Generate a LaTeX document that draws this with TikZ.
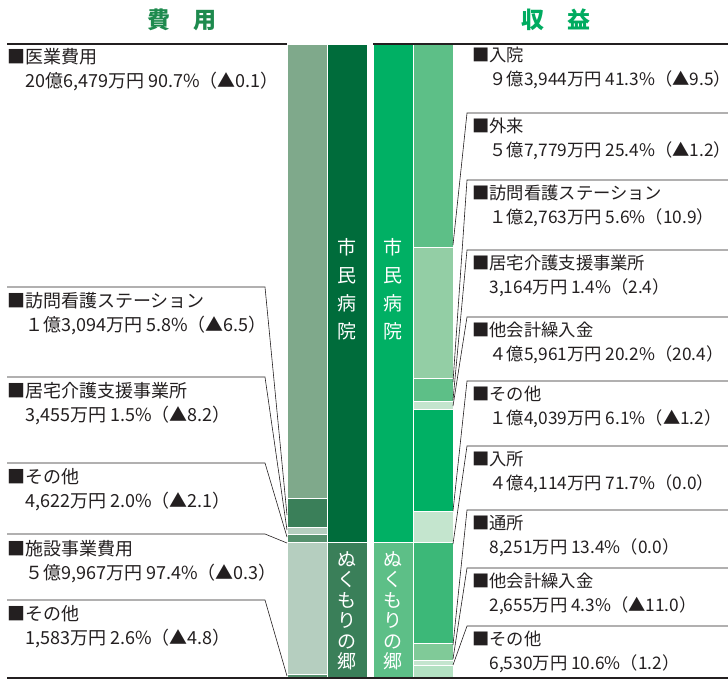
\documentclass[tikz,border=0pt]{standalone}
\usepackage{fontspec}
\setmainfont{Noto Sans CJK JP}
\usetikzlibrary{positioning}

\definecolor{ink}{HTML}{231F20}
\definecolor{headL}{HTML}{1E8A4E}
\definecolor{headR}{HTML}{00AB60}
\definecolor{hospL}{HTML}{006C3B}
\definecolor{nukuL}{HTML}{3A7F59}
\definecolor{iryo}{HTML}{7FA98B}
\definecolor{paleL}{HTML}{B5CEBF}
\definecolor{midL}{HTML}{55906D}
\definecolor{hospR}{HTML}{00B064}
\definecolor{nukuR}{HTML}{5DBF87}
\definecolor{gairai}{HTML}{93CEA5}
\definecolor{paleR}{HTML}{C4E5CE}
\definecolor{nyusho}{HTML}{3CB878}
\definecolor{tsusho}{HTML}{80CA98}
\definecolor{paleN}{HTML}{B3E1C2}

\begin{document}
\begin{tikzpicture}[x=1pt,y=-1pt,
  seg/.style={draw=white,line width=0.7pt},
  rule/.style={draw=ink,line width=1.1pt},
  leader/.style={draw=ink,line width=0.6pt},
  lbl/.style={anchor=north west,inner sep=0pt,align=left,text=ink,
    font=\fontsize{18}{24}\selectfont},
  rlbl/.style={lbl,font=\fontsize{17.3}{24}\selectfont},
  vtext/.style={inner sep=0pt,align=center,text=white},
  head/.style={inner sep=0pt,font=\fontsize{23}{23}\selectfont\bfseries}]
\useasboundingbox (0,0) rectangle (728,682);

% headings
\node[head,text=headL] (costs) at (182,20) {費　用};
\node[head,text=headR] (income) at (556,20) {収　益};

% bars
\foreach \x/\ya/\yb/\c in {
  287/44/498/iryo, 287/498/527/nukuL, 287/527/534/paleL, 287/534/542/midL,
  287/542/674/paleL, 287/674/678/midL,
  327/44/542/hospL, 327/542/678/nukuL,
  373/44/542/hospR, 373/542/678/nukuR,
  413/44/247/nukuR, 413/247/378/gairai, 413/378/401/nukuR, 413/401/409/paleR,
  413/409/511/hospR, 413/511/542/paleR,
  413/542/643/nyusho, 413/643/660/tsusho, 413/660/665/paleR, 413/665/678/paleN}
  \path[seg,fill=\c] (\x,\ya) rectangle (\x+40,\yb);

\node[vtext,font=\fontsize{19}{28}\selectfont] (hospA) at (347,289) {市\\民\\病\\院};
\node[vtext,font=\fontsize{19}{28}\selectfont] (hospB) at (393,289) {市\\民\\病\\院};
\node[vtext,font=\fontsize{19}{20.5}\selectfont] (nukuA) at (347,611) {ぬ\\く\\も\\り\\の\\郷};
\node[vtext,font=\fontsize{19}{20.5}\selectfont] (nukuB) at (393,611) {ぬ\\く\\も\\り\\の\\郷};

% top and bottom rules
\coordinate (tl) at (7,44);
\coordinate (tm) at (287,44);
\coordinate (tn) at (373,44);
\coordinate (tr) at (728,44);
\coordinate (bl) at (7,678);
\coordinate (br) at (728,678);
\draw[rule] (tl) -- (tm);
\draw[rule] (tn) -- (tr);
\draw[rule] (bl) -- (br);

% cost labels
\node[lbl] (c1) at (7,48) {■医業費用\\\hspace{1em}20億6,479万円 90.7\%（▲0.1）};
\node[lbl] (c2) at (7,292) {■訪問看護ステーション\\\hspace{1em}１億3,094万円 5.8\%（▲6.5）};
\node[lbl] (c3) at (7,382) {■居宅介護支援事業所\\\hspace{1em}3,455万円 1.5\%（▲8.2）};
\node[lbl] (c4) at (7,468) {■その他\\\hspace{1em}4,622万円 2.0\%（▲2.1）};
\node[lbl] (c5) at (7,540) {■施設事業費用\\\hspace{1em}５億9,967万円 97.4\%（▲0.3）};
\node[lbl] (c6) at (7,605) {■その他\\\hspace{1em}1,583万円 2.6\%（▲4.8）};

% income labels
\node[rlbl] (r1) at (472,47) {■入院\\\hspace{1em}９億3,944万円 41.3\%（▲9.5）};
\node[rlbl] (r2) at (472,118) {■外来\\\hspace{1em}５億7,779万円 25.4\%（▲1.2）};
\node[rlbl] (r3) at (472,185) {■訪問看護ステーション\\\hspace{1em}１億2,763万円 5.6\%（10.9）};
\node[rlbl] (r4) at (472,255) {■居宅介護支援事業所\\\hspace{1em}3,164万円 1.4\%（2.4）};
\node[rlbl] (r5) at (472,322) {■他会計繰入金\\\hspace{1em}４億5,961万円 20.2\%（20.4）};
\node[rlbl] (r6) at (472,386) {■その他\\\hspace{1em}１億4,039万円 6.1\%（▲1.2）};
\node[rlbl] (r7) at (472,451) {■入所\\\hspace{1em}４億4,114万円 71.7\%（0.0）};
\node[rlbl] (r8) at (472,515) {■通所\\\hspace{1em}8,251万円 13.4\%（0.0）};
\node[rlbl] (r9) at (472,573) {■他会計繰入金\\\hspace{1em}2,655万円 4.3\%（▲11.0）};
\node[rlbl] (r10) at (472,631) {■その他\\\hspace{1em}6,530万円 10.6\%（1.2）};

% leaders, cost side
\foreach \y/\b [count=\i] in {287/515, 377/530, 463/537, 534/543, 600/676} {
  \coordinate (cs\i) at (7,\y);
  \coordinate (cc\i) at (265,\y);
  \coordinate (cb\i) at (287,\b);
  \draw[leader] (cs\i) -- (cc\i) -- (cb\i);
}

% leaders, income side
\foreach \y/\b [count=\i] in {113/245, 180/382, 250/400, 317/406, 381/511,
    446/544, 510/645, 568/659, 626/665} {
  \coordinate (rs\i) at (728,\y);
  \coordinate (rc\i) at (467,\y);
  \coordinate (rb\i) at (453,\b);
  \draw[leader] (rs\i) -- (rc\i) -- (rb\i);
}
\end{tikzpicture}
\end{document}
